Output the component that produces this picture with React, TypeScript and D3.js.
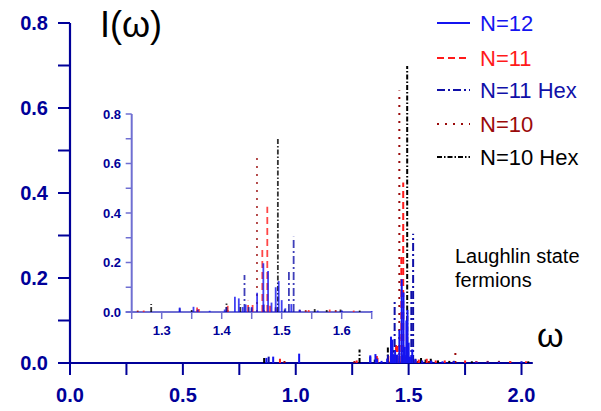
import React from "react";
import * as d3 from "d3";

type Pt = [number, number];

// [omega, intensity]
const n12: Pt[] = [
  [0.87, 0.012], [0.9, 0.015], [1.015, 0.022], [1.33, 0.018], [1.353, 0.021], [1.36, 0.01],
  [1.38, 0.005], [1.405, 0.01], [1.422, 0.062], [1.4285, 0.055], [1.435, 0.02], [1.44, 0.03],
  [1.45, 0.02], [1.459, 0.078], [1.4694, 0.197], [1.4773, 0.166], [1.483, 0.038], [1.49, 0.1],
  [1.495, 0.125], [1.5, 0.048], [1.506, 0.015], [1.516, 0.032], [1.53, 0.008], [1.56, 0.006],
  [1.6, 0.005], [1.65, 0.004], [1.7, 0.004], [1.8, 0.003], [1.9, 0.003], [2.0, 0.003],
];
const n11: Pt[] = [
  [0.93, 0.01], [1.27, 0.006], [1.359, 0.018], [1.362, 0.012], [1.41, 0.025], [1.444, 0.045],
  [1.4515, 0.04], [1.4677, 0.257], [1.476, 0.425], [1.4806, 0.025], [1.49, 0.015], [1.53, 0.008],
  [1.545, 0.008], [1.58, 0.01], [1.62, 0.006], [1.66, 0.006], [1.7, 0.005], [1.75, 0.006],
  [1.8, 0.004], [1.85, 0.005], [1.9, 0.004], [1.95, 0.004], [2.02, 0.004],
];
const n11Hex: Pt[] = [
  [0.88, 0.015], [1.33, 0.015], [1.408, 0.02], [1.438, 0.15], [1.445, 0.02], [1.47, 0.03],
  [1.49, 0.02], [1.512, 0.17], [1.5199, 0.304], [1.53, 0.01], [1.6, 0.006], [1.7, 0.005],
  [1.85, 0.004], [2.0, 0.004],
];
const n10: Pt[] = [
  [0.95, 0.008], [1.26, 0.006], [1.36, 0.012], [1.41, 0.01], [1.4588, 0.641], [1.47, 0.02],
  [1.54, 0.008], [1.59, 0.008], [1.707, 0.03], [1.8, 0.004], [1.95, 0.004],
];
const n10Hex: Pt[] = [
  [0.86, 0.012], [1.2825, 0.032], [1.35, 0.008], [1.408, 0.04], [1.431, 0.03], [1.45, 0.015],
  [1.4936, 0.699], [1.505, 0.01], [1.555, 0.012], [1.575, 0.008], [1.598, 0.01], [1.63, 0.006],
  [1.68, 0.005], [1.78, 0.004], [1.9, 0.005], [2.03, 0.004],
];

const seriesNames = ["N=12", "N=11", "N=11 Hex", "N=10", "N=10 Hex"];
const seriesData = [n12, n11, n11Hex, n10, n10Hex];

const mainXTicks = [0, 0.5, 1.0, 1.5, 2.0];
const mainXMinor = [0.25, 0.75, 1.25, 1.75];
const mainYTicks = [0, 0.2, 0.4, 0.6, 0.8];
const mainYMinor = [0.1, 0.3, 0.5, 0.7];
const insetXTicks = [1.3, 1.4, 1.5, 1.6];
const insetXMinor = [1.25, 1.35, 1.45, 1.55, 1.65];
const insetYTicks = [0, 0.2, 0.4, 0.6, 0.8];
const insetYMinor = [0.1, 0.3, 0.5, 0.7];

const colors = ["#1414f0", "#ff1a1a", "#1010a8", "#9a0a0a", "#000000"];
const dashes = ["none", "7,4", "8,3,2,3", "2,6", "5,2,1.5,2"];
const drawOrder = [4, 3, 1, 2, 0];

const NAVY = "#000099";
const fmt = d3.format(".1f");

export default function App() {
  const x = d3.scaleLinear().domain([0, 2.05]).range([70, 532.8]);
  const y = d3.scaleLinear().domain([0, 0.8]).range([363, 23]);
  const ix = d3.scaleLinear().domain([1.25, 1.65]).range([131.7, 371.7]);
  const iy = d3.scaleLinear().domain([0, 0.8]).range([312, 114]);
  const insetAxis = "#6f6fd2";

  return (
    <svg
      width={601}
      height={411}
      style={{ position: "absolute", left: 0, top: 0, background: "#fff" }}
      fontFamily="'Liberation Sans', Arial, sans-serif"
    >
      {/* main axes */}
      <line x1={x(0)} x2={x(0)} y1={y(0.8)} y2={y(0)} stroke={NAVY} strokeWidth={2.2} />
      <line x1={x(0) - 12} x2={x(2.05)} y1={y(0)} y2={y(0)} stroke={NAVY} strokeWidth={2.2} />
      {mainYTicks.concat(mainYMinor).map((t) => (
        <line key={"yt" + t} x1={x(0) - 12} x2={x(0)} y1={y(t)} y2={y(t)} stroke={NAVY} strokeWidth={2} />
      ))}
      {mainXTicks.concat(mainXMinor).map((t) => (
        <line key={"xt" + t} x1={x(t)} x2={x(t)} y1={y(0)} y2={y(0) + 12} stroke={NAVY} strokeWidth={2} />
      ))}
      {mainYTicks.map((t) => (
        <text key={"yl" + t} x={48} y={y(t)} textAnchor="end" dominantBaseline="central"
          fontSize={20} fontWeight="bold" fill={NAVY}>{fmt(t)}</text>
      ))}
      {mainXTicks.map((t) => (
        <text key={"xl" + t} x={x(t)} y={395} textAnchor="middle" dominantBaseline="central"
          fontSize={20} fontWeight="bold" fill={NAVY}>{fmt(t)}</text>
      ))}

      {/* main sticks */}
      {drawOrder.map((si) => (
        <g key={"ms" + si} stroke={colors[si]} strokeWidth={2} strokeDasharray={dashes[si]}>
          {seriesData[si].map(([w, v], i) => (
            <line key={i} x1={x(w)} x2={x(w)} y1={y(0)} y2={y(v)} />
          ))}
        </g>
      ))}

      {/* inset axes */}
      <line x1={ix(1.25)} x2={ix(1.25)} y1={iy(0.8)} y2={iy(0)} stroke={insetAxis} strokeWidth={2} />
      <line x1={ix(1.25) - 6} x2={ix(1.65)} y1={iy(0)} y2={iy(0)} stroke={insetAxis} strokeWidth={2} />
      {insetYTicks.concat(insetYMinor).map((t) => (
        <line key={"iyt" + t} x1={ix(1.25) - 6} x2={ix(1.25)} y1={iy(t)} y2={iy(t)} stroke={insetAxis} strokeWidth={1.5} />
      ))}
      {insetXTicks.concat(insetXMinor).map((t) => (
        <line key={"ixt" + t} x1={ix(t)} x2={ix(t)} y1={iy(0)} y2={iy(0) + 7} stroke={insetAxis} strokeWidth={1.5} />
      ))}
      {insetYTicks.map((t) => (
        <text key={"iyl" + t} x={121} y={iy(t)} textAnchor="end" dominantBaseline="central"
          fontSize={13} fontWeight="bold" fill={NAVY}>{fmt(t)}</text>
      ))}
      {insetXTicks.map((t) => (
        <text key={"ixl" + t} x={ix(t)} y={330} textAnchor="middle" dominantBaseline="central"
          fontSize={13} fontWeight="bold" fill={NAVY}>{fmt(t)}</text>
      ))}

      {/* inset sticks */}
      {drawOrder.map((si) => (
        <g key={"is" + si} stroke={colors[si]} strokeWidth={1.8} strokeDasharray={dashes[si]} opacity={0.8}>
          {seriesData[si]
            .filter(([w]) => w >= 1.25 && w <= 1.65)
            .map(([w, v], i) => (
              <line key={i} x1={ix(w)} x2={ix(w)} y1={iy(0)} y2={iy(v)} />
            ))}
        </g>
      ))}

      {/* labels */}
      <text x={100} y={37} fontSize={36} fill="#000">I(ω)</text>
      <text x={537} y={347} fontSize={34} fill="#000">ω</text>
      <text x={455} y={263} fontSize={20} fill="#000">Laughlin state</text>
      <text x={455} y={287} fontSize={20} fill="#000">fermions</text>

      {/* legend */}
      {seriesNames.map((n, i) => {
        const ly = [23, 58, 90, 124, 157][i];
        return (
          <g key={"lg" + i}>
            <line x1={437} x2={470} y1={ly} y2={ly} stroke={colors[i]} strokeWidth={2} strokeDasharray={dashes[i]} />
            <text x={480} y={ly} dominantBaseline="central" fontSize={22} fill={colors[i]}>{n}</text>
          </g>
        );
      })}
    </svg>
  );
}
